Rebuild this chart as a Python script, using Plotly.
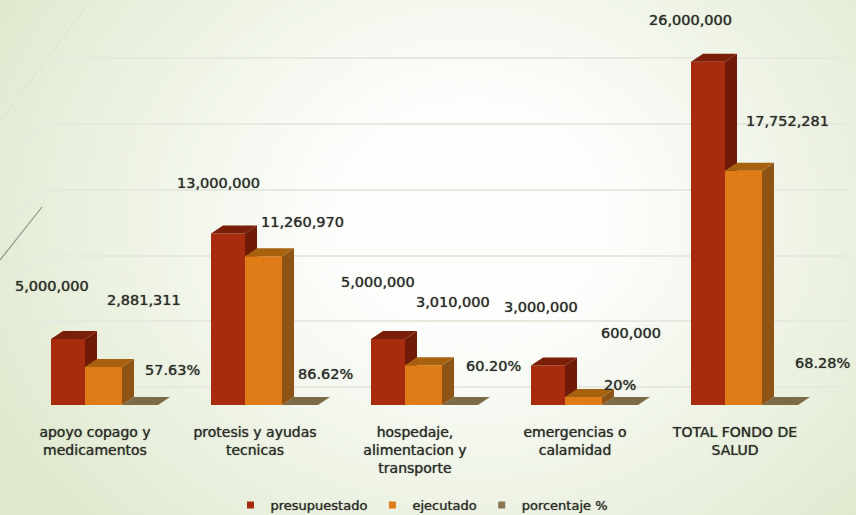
import base64, struct, zlib
import numpy as np
import plotly.graph_objects as go

categories = ["apoyo copago y<br>medicamentos", "protesis y ayudas<br>tecnicas",
              "hospedaje,<br>alimentacion y<br>transporte", "emergencias o<br>calamidad",
              "TOTAL FONDO DE<br>SALUD"]
presupuestado = [5000000, 13000000, 5000000, 3000000, 26000000]
ejecutado = [2881311, 11260970, 3010000, 600000, 17752281]
porcentaje = [0.5763, 0.8662, 0.6020, 0.20, 0.6828]
porcentaje_txt = ["57.63%", "86.62%", "60.20%", "20%", "68.28%"]
grid_vals = [1360000, 6360000, 11290000, 16290000, 21290000, 26290000]

W, H = 856, 515
BASE_PX = 405
PX_PER_UNIT = 13.2 / 1e6      # pixels per peso
PX_PER_CAT = 160
X0_PX = 95
DX = 12 / PX_PER_CAT
DY = 8 / PX_PER_UNIT
LEFT = [-44 / 160, -10 / 160, 27 / 160]
BW = [34 / 160, 37 / 160, 36 / 160]
C_FRONT = ["#a62c0d", "#df7c18", "#8a7650"]
C_SIDE = ["#6f1b07", "#8e5416", "#7d6b47"]
C_TOP = ["#7b1e08", "#a8620f", "#7d6b47"]
TXT = "#2b2b28"
FONT = "DejaVu Sans"
SHADOW = "0 0 1px rgba(40,40,36,0.8)"

def px(x):
    return x / W

def py(y):
    return (BASE_PX - y) / BASE_PX

# soft elliptical page background
yy, xx = np.mgrid[0:H, 0:W]
d = np.sqrt(((xx - 470) / 560.0) ** 2 + ((yy - 215) / 470.0) ** 2)
t = np.clip((d - 0.25) / 0.75, 0, 1)[..., None]
img = (np.array([253, 254, 252]) * (1 - t) + np.array([222, 232, 204]) * t).astype(np.uint8)
raw = b"".join(b"\x00" + img[i].tobytes() for i in range(H))
def chunk(tag, data):
    return struct.pack(">I", len(data)) + tag + data + struct.pack(">I", zlib.crc32(tag + data))
png = (b"\x89PNG\r\n\x1a\n" + chunk(b"IHDR", struct.pack(">IIBBBBB", W, H, 8, 2, 0, 0, 0))
       + chunk(b"IDAT", zlib.compress(raw)) + chunk(b"IEND", b""))
bg = "data:image/png;base64," + base64.b64encode(png).decode()

fig = go.Figure()

def poly(xs, ys, color, axes):
    fig.add_trace(go.Scatter(x=xs, y=ys, fill="toself", fillcolor=color, mode="none",
                             showlegend=False, hoverinfo="skip", **axes))

def bar3d(values, s, axes):
    xc = list(range(len(values)))
    fig.add_trace(go.Bar(x=[c + LEFT[s] for c in xc], y=values, width=BW[s], offset=0,
                         marker=dict(color=C_FRONT[s], line_width=0), showlegend=False,
                         hoverinfo="skip", **axes))
    for c, v in zip(xc, values):
        l, r = c + LEFT[s], c + LEFT[s] + BW[s]
        poly([r, r, r + DX, r + DX, r], [0, v, v + DY, DY, 0], C_SIDE[s], axes)
        poly([l, r, r + DX, l + DX, l], [v, v, v + DY, v + DY, v], C_TOP[s], axes)

base = dict(xaxis="x", yaxis="y")
over = dict(xaxis="x2", yaxis="y2")
bar3d(porcentaje, 2, base)
bar3d(presupuestado, 0, base)
bar3d(ejecutado, 1, over)

names = ["presupuestado", "ejecutado", "porcentaje %"]
for n, c in zip(names, C_FRONT):
    fig.add_trace(go.Scatter(x=[None], y=[None], mode="markers", name=n,
                             marker=dict(symbol="square", size=7, color=c)))

xr = [-X0_PX / PX_PER_CAT, (W - X0_PX) / PX_PER_CAT]
yr = [0, BASE_PX / PX_PER_UNIT]

shapes = []
for g in grid_vals:
    shapes.append(dict(type="line", layer="below", xref="x", yref="y",
                       x0=(45 - X0_PX) / PX_PER_CAT, x1=(847 - X0_PX) / PX_PER_CAT, y0=g, y1=g,
                       line=dict(color="#e6e9de", width=2)))
    shapes.append(dict(type="line", layer="below", xref="x", yref="y",
                       x0=(45 - X0_PX) / PX_PER_CAT, x1=(15 - X0_PX) / PX_PER_CAT,
                       y0=g, y1=g - 24 / PX_PER_UNIT, line=dict(color="#e6e9de", width=2)))
# page ornament lines
for (a, b, c, e, col, w) in [(0, 260, 42, 207, "#8d9488", 1.2), (0, 122, 85, 8, "#dde4d0", 1.2)]:
    shapes.append(dict(type="line", layer="below", xref="paper", yref="paper",
                       x0=px(a), x1=px(c), y0=py(b), y1=py(e),
                       line=dict(color=col, width=w)))

label_txt = []
label_pos = [(52, 286), (144, 300), (172, 370), (218, 183), (302, 222), (325, 374),
             (378, 282), (453, 302), (493, 366), (541, 307), (631, 333), (620, 385),
             (690, 20), (787, 121), (822, 363)]
for a, b, p in zip(presupuestado, ejecutado, porcentaje_txt):
    label_txt += [f"{a:,}", f"{b:,}", p]
annotations = [dict(text=t_, x=px(lx), y=py(ly), xref="paper", yref="paper", showarrow=False,
                    xanchor="center", yanchor="middle",
                    font=dict(family=FONT, size=14.5, color=TXT, shadow=SHADOW))
               for t_, (lx, ly) in zip(label_txt, label_pos)]

fig.update_layout(
    width=W, height=H, margin=dict(l=0, r=0, t=0, b=H - BASE_PX, autoexpand=False),
    paper_bgcolor="#f4f7ee", plot_bgcolor="rgba(0,0,0,0)",
    images=[dict(source=bg, xref="paper", yref="paper", x=0, y=py(H),
                 sizex=1, sizey=H / BASE_PX, xanchor="left", yanchor="bottom",
                 sizing="stretch", layer="below")],
    barmode="overlay", shapes=shapes, annotations=annotations,
    xaxis=dict(range=xr, tickmode="array", tickvals=list(range(5)), ticktext=categories,
               ticks="outside", ticklen=14, tickcolor="rgba(0,0,0,0)", showgrid=False,
               zeroline=False, showline=False, tickangle=0, automargin=False,
               tickfont=dict(family=FONT, size=14, color=TXT, shadow=SHADOW)),
    yaxis=dict(range=yr, visible=False),
    xaxis2=dict(range=xr, overlaying="x", visible=False, matches="x"),
    yaxis2=dict(range=yr, overlaying="y", visible=False, matches="y"),
    legend=dict(orientation="h", x=(428 - 6) / W, xanchor="center", y=py(490), yanchor="top",
                font=dict(family=FONT, size=13, color=TXT, shadow=SHADOW), bgcolor="rgba(0,0,0,0)"),
)
fig.write_html("out.html", config=dict(displayModeBar=False),
               post_script="document.body.style.margin='0';document.body.style.overflow='hidden';")
